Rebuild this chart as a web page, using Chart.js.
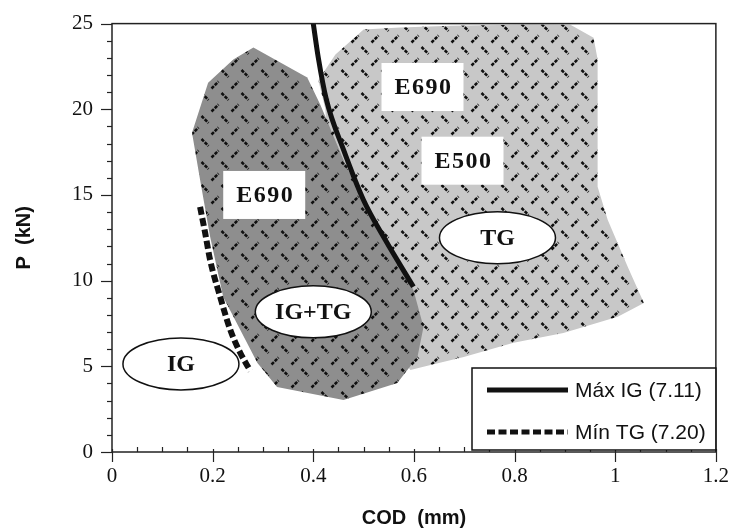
<!DOCTYPE html>
<html>
<head>
<meta charset="utf-8">
<script src="https://cdn.jsdelivr.net/npm/chart.js@4.4.1/dist/chart.umd.min.js"></script>
<style>
html, body { margin: 0; padding: 0; background: #fff; }
#wrap { width: 733px; height: 530px; }
</style>
</head>
<body>
<div id="wrap"><canvas id="myChart"></canvas></div>
<script>
// COD (mm) / P (kN)
var e500X = [0.500, 0.573, 0.673, 0.832, 0.911, 0.957, 0.965, 0.965, 0.985, 1.025, 1.057, 1.005, 0.897, 0.798, 0.699, 0.633, 0.593, 0.533, 0.434, 0.424, 0.410, 0.444];
var e500Y = [24.65, 24.77, 24.88, 24.95, 24.94, 24.18, 22.9, 15.48, 13.55, 10.8, 8.70, 7.89, 6.95, 6.37, 5.55, 5.08, 4.79, 7.1, 14.7, 20.0, 21.7, 23.2];

var e690X = [0.281, 0.388, 0.414, 0.464, 0.523, 0.573, 0.599, 0.619, 0.607, 0.567, 0.460, 0.328, 0.289, 0.221, 0.195, 0.175, 0.159, 0.191, 0.241];
var e690Y = [23.6, 21.85, 20.27, 16.76, 13.26, 10.92, 9.46, 7.30, 5.55, 4.03, 3.04, 3.80, 5.20, 9.05, 12.56, 15.89, 18.63, 21.55, 22.9];

var maxIgX = [0.400, 0.410, 0.426, 0.460, 0.4995, 0.543, 0.599];
var maxIgY = [25.0, 23.0, 20.56, 17.64, 14.72, 12.38, 9.64];

var minTgX = [0.175, 0.185, 0.195, 0.215, 0.235, 0.255, 0.275];
var minTgY = [14.3, 12.8, 11.2, 9.05, 7.13, 5.78, 4.73];

var boxText = ['E690', 'E690', 'E500'];
var boxX = [0.3025, 0.617, 0.6965];
var boxY = [15.0, 21.3, 17.0];

var ovalText = ['IG', 'IG+TG', 'TG'];
var ovalX = [0.137, 0.400, 0.766];
var ovalY = [5.14, 8.18, 12.5];

var seriesLabels = ['Máx IG (7.11)', 'Mín TG (7.20)'];

function pts(xs, ys, close) {
    var out = xs.map(function (x, i) { return { x: x, y: ys[i] }; });
    if (close) out.push({ x: xs[0], y: ys[0] });
    return out;
}

// trama de rombos
function makePattern(bg) {
    var c = document.createElement('canvas');
    c.width = 20; c.height = 23;
    var g = c.getContext('2d');
    g.fillStyle = bg;
    g.fillRect(0, 0, 20, 23);
    g.strokeStyle = '#101010';
    g.lineWidth = 2.5;
    g.setLineDash([3.4, 1.2]);
    g.beginPath(); g.moveTo(1.5, 1); g.lineTo(8.5, 8); g.stroke();
    g.beginPath(); g.moveTo(11.5, 19.5); g.lineTo(18.5, 12.5); g.stroke();
    return g.createPattern(c, 'repeat');
}

var serif = 'Liberation Serif, Times New Roman, serif';
var sans = 'Liberation Sans, Arial, sans-serif';

var extras = {
    id: 'extras',
    afterDatasetDraw: function (chart, args) {
        if (args.index !== 2) return;
        var ctx = chart.ctx, xs = chart.scales.x, ys = chart.scales.y;
        ctx.save();
        // cajas blancas
        ctx.font = 'bold 24px ' + serif;
        ctx.letterSpacing = '1.5px';
        ctx.textAlign = 'center';
        ctx.textBaseline = 'middle';
        boxText.forEach(function (t, i) {
            var px = xs.getPixelForValue(boxX[i]), py = ys.getPixelForValue(boxY[i]);
            ctx.fillStyle = '#fff';
            ctx.fillRect(px - 41, py - 24, 82, 48);
            ctx.fillStyle = '#111';
            ctx.fillText(t, px + 1, py + 1);
        });
        ctx.letterSpacing = '0px';
        // elipses
        ovalText.forEach(function (t, i) {
            var px = xs.getPixelForValue(ovalX[i]), py = ys.getPixelForValue(ovalY[i]);
            ctx.beginPath();
            ctx.ellipse(px, py, 58, 26, 0, 0, Math.PI * 2);
            ctx.fillStyle = '#fff';
            ctx.fill();
            ctx.lineWidth = 1.5;
            ctx.strokeStyle = '#111';
            ctx.stroke();
            ctx.fillStyle = '#111';
            ctx.fillText(t, px, py + 1);
        });
        ctx.restore();
    },
    afterDraw: function (chart) {
        var ctx = chart.ctx, a = chart.chartArea, xs = chart.scales.x, ys = chart.scales.y;
        ctx.save();
        ctx.strokeStyle = '#222';
        ctx.lineWidth = 1.5;
        ctx.strokeRect(a.left, a.top, a.right - a.left, a.bottom - a.top);
        // marcas del eje x
        ctx.lineWidth = 1.2;
        for (var k = 0; k <= 24; k++) {
            var px = Math.round(xs.getPixelForValue(k * 0.05)) + 0.5;
            ctx.beginPath();
            if (k % 4 === 0) { ctx.moveTo(px, a.bottom - 3); ctx.lineTo(px, a.bottom + 10); }
            else { ctx.moveTo(px, a.bottom - 5); ctx.lineTo(px, a.bottom); }
            ctx.stroke();
        }
        // marcas del eje y
        for (var j = 0; j <= 25; j++) {
            var py = Math.round(ys.getPixelForValue(j)) + 0.5;
            ctx.beginPath();
            ctx.moveTo(a.left - (j % 5 === 0 ? 11 : 5), py);
            ctx.lineTo(a.left, py);
            ctx.stroke();
        }
        // leyenda
        var lx = 472, lr = a.right, ly = 368, lb = a.bottom - 2;
        ctx.fillStyle = '#fff';
        ctx.fillRect(lx, ly, lr - lx, lb - ly);
        ctx.lineWidth = 1.5;
        ctx.strokeStyle = '#111';
        ctx.strokeRect(lx, ly, lr - lx, lb - ly);
        var rows = [390, 432];
        ctx.font = '21px ' + sans;
        ctx.textAlign = 'left';
        ctx.textBaseline = 'middle';
        chart.data.datasets.slice(0, 2).forEach(function (ds, i) {
            ctx.beginPath();
            ctx.lineWidth = 5;
            ctx.strokeStyle = '#111';
            ctx.setLineDash(ds.borderDash || []);
            ctx.moveTo(487, rows[i]);
            ctx.lineTo(568, rows[i]);
            ctx.stroke();
            ctx.setLineDash([]);
            ctx.fillStyle = '#111';
            ctx.fillText(ds.label, 575, rows[i] + 1);
        });
        ctx.restore();
    }
};

var ctx = document.getElementById('myChart').getContext('2d');
var myChart = new Chart(ctx, {
    type: 'line',
    data: {
        datasets: [
            {
                label: seriesLabels[0],
                data: pts(maxIgX, maxIgY, false),
                borderColor: '#111',
                borderWidth: 5,
                pointRadius: 0,
                cubicInterpolationMode: 'monotone',
                fill: false
            },
            {
                label: seriesLabels[1],
                data: pts(minTgX, minTgY, false),
                borderColor: '#111',
                borderWidth: 6,
                borderDash: [8, 3.5],
                pointRadius: 0,
                cubicInterpolationMode: 'monotone',
                fill: false
            },
            {
                label: 'E690',
                data: pts(e690X, e690Y, true),
                borderWidth: 0,
                borderColor: 'rgba(0,0,0,0)',
                backgroundColor: makePattern('#8e8e8e'),
                pointRadius: 0,
                fill: 'shape'
            },
            {
                label: 'E500',
                data: pts(e500X, e500Y, true),
                borderWidth: 0,
                borderColor: 'rgba(0,0,0,0)',
                backgroundColor: makePattern('#c8c8c8'),
                pointRadius: 0,
                fill: 'shape'
            }
        ]
    },
    options: {
        responsive: true,
        maintainAspectRatio: false,
        animation: false,
        layout: { padding: { top: 17, right: 12, left: 0, bottom: 0 } },
        plugins: {
            legend: { display: false },
            tooltip: { enabled: false }
        },
        scales: {
            x: {
                type: 'linear',
                min: 0,
                max: 1.2,
                grid: { display: false },
                border: { display: false },
                ticks: {
                    stepSize: 0.2,
                    autoSkip: false,
                    maxRotation: 0,
                    padding: 4,
                    color: '#111',
                    font: { family: serif, size: 21 },
                    callback: function (value) {
                        return String(Number(value.toFixed(2)));
                    }
                },
                title: {
                    display: true,
                    text: 'COD  (mm)',
                    color: '#111',
                    font: { family: sans, size: 20, weight: 'bold' },
                    padding: { top: 0, bottom: 0 }
                },
                afterFit: function (s) { s.height = 78; }
            },
            y: {
                type: 'linear',
                min: 0,
                max: 25,
                grid: { display: false },
                border: { display: false },
                ticks: {
                    stepSize: 5,
                    padding: 11,
                    color: '#111',
                    font: { family: serif, size: 21 }
                },
                title: {
                    display: true,
                    text: 'P  (kN)',
                    color: '#111',
                    font: { family: sans, size: 20, weight: 'bold' },
                    padding: { top: 12, bottom: 0 }
                },
                afterFit: function (s) { s.width = 112; }
            }
        }
    },
    plugins: [extras]
});
</script>
</body>
</html>
